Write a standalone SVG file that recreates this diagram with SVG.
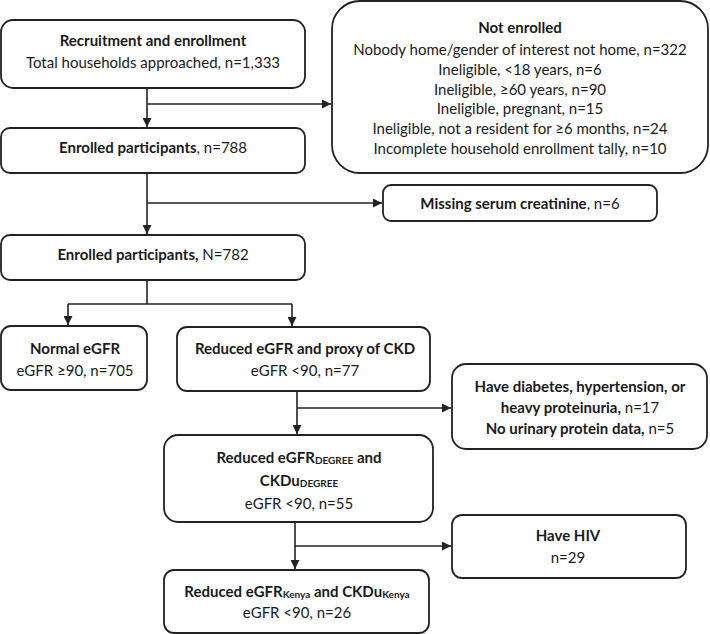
<svg xmlns="http://www.w3.org/2000/svg" width="710" height="634" viewBox="0 0 710 634">
<style>
.box{fill:#fff;stroke:#222;stroke-width:1.8}
.ln{fill:none;stroke:#222;stroke-width:1.6}
text{font-family:Lato,"Open Sans","Liberation Sans",sans-serif;font-size:15px;fill:#1a1a1a;text-anchor:middle;dominant-baseline:central}
.b{font-weight:bold}
.sub{font-size:10px;font-weight:bold}
</style>
<defs>
<marker id="ah" viewBox="0 0 10 10" refX="10" refY="5" markerWidth="9" markerHeight="9" markerUnits="userSpaceOnUse" orient="auto">
<path d="M0,0 L10,5 L0,10 Z" fill="#222"/>
</marker>
</defs>
<rect width="710" height="634" fill="#fff"/>
<g id="connectors">
<path class="ln" d="M147,88 V127" marker-end="url(#ah)"/>
<path class="ln" d="M147,104 H331" marker-end="url(#ah)"/>
<path class="ln" d="M147,173 V234" marker-end="url(#ah)"/>
<path class="ln" d="M147,203 H382" marker-end="url(#ah)"/>
<path class="ln" d="M147,280 V304"/>
<path class="ln" d="M68,304 H292"/>
<path class="ln" d="M68,304 V325" marker-end="url(#ah)"/>
<path class="ln" d="M292,304 V326" marker-end="url(#ah)"/>
<path class="ln" d="M297,391 V434" marker-end="url(#ah)"/>
<path class="ln" d="M297,408 H451" marker-end="url(#ah)"/>
<path class="ln" d="M295,522 V569" marker-end="url(#ah)"/>
<path class="ln" d="M295,546 H451" marker-end="url(#ah)"/>
</g>
<g id="n1">
<rect class="box" x="1" y="20" width="304" height="68" rx="12"/>
<text x="153" y="40" class="b">Recruitment and enrollment</text>
<text x="153" y="62">Total households approached, n=1,333</text>
</g>
<g id="n2">
<rect class="box" x="332" y="1" width="376" height="172" rx="28"/>
<text x="520" y="27" class="b">Not enrolled</text>
<text x="520" y="49">Nobody home/gender of interest not home, n=322</text>
<text x="520" y="69">Ineligible, &lt;18 years, n=6</text>
<text x="520" y="89">Ineligible, ≥60 years, n=90</text>
<text x="520" y="108">Ineligible, pregnant, n=15</text>
<text x="520" y="128">Ineligible, not a resident for ≥6 months, n=24</text>
<text x="520" y="148">Incomplete household enrollment tally, n=10</text>
</g>
<g id="n3">
<rect class="box" x="1" y="128" width="304" height="45" rx="9"/>
<text x="153" y="147"><tspan class="b">Enrolled participants</tspan>, n=788</text>
</g>
<g id="n4">
<rect class="box" x="383" y="185" width="274" height="36" rx="8"/>
<text x="520" y="203"><tspan class="b">Missing serum creatinine</tspan>, n=6</text>
</g>
<g id="n5">
<rect class="box" x="1" y="235" width="304" height="45" rx="9"/>
<text x="153" y="254"><tspan class="b">Enrolled participants,</tspan> N=782</text>
</g>
<g id="n6">
<rect class="box" x="1" y="326" width="146" height="64" rx="10"/>
<text x="75" y="348" class="b">Normal eGFR</text>
<text x="75" y="370">eGFR ≥90, n=705</text>
</g>
<g id="n7">
<rect class="box" x="177" y="327" width="253" height="64" rx="10"/>
<text x="305" y="348" class="b">Reduced eGFR and proxy of CKD</text>
<text x="305" y="370">eGFR &lt;90, n=77</text>
</g>
<g id="n8">
<rect class="box" x="452" y="364" width="255" height="85" rx="14"/>
<text x="580" y="386" class="b">Have diabetes, hypertension, or</text>
<text x="580" y="407"><tspan class="b">heavy proteinuria,</tspan> n=17</text>
<text x="580" y="428"><tspan class="b">No urinary protein data,</tspan> n=5</text>
</g>
<g id="n9">
<rect class="box" x="164" y="435" width="269" height="87" rx="14"/>
<text x="299" y="457" class="b">Reduced eGFR<tspan class="sub" dy="3">DEGREE</tspan><tspan dy="-3"> and</tspan></text>
<text x="299" y="480" class="b">CKDu<tspan class="sub" dy="3">DEGREE</tspan></text>
<text x="299" y="503">eGFR &lt;90, n=55</text>
</g>
<g id="n10">
<rect class="box" x="452" y="515" width="234" height="63" rx="10"/>
<text x="568" y="535" class="b">Have HIV</text>
<text x="568" y="557">n=29</text>
</g>
<g id="n11">
<rect class="box" x="164" y="570" width="265" height="63" rx="10"/>
<text x="297" y="591" class="b">Reduced eGFR<tspan class="sub" dy="3">Kenya</tspan><tspan dy="-3"> and CKDu</tspan><tspan class="sub" dy="3">Kenya</tspan></text>
<text x="297" y="612">eGFR &lt;90, n=26</text>
</g>
</svg>
